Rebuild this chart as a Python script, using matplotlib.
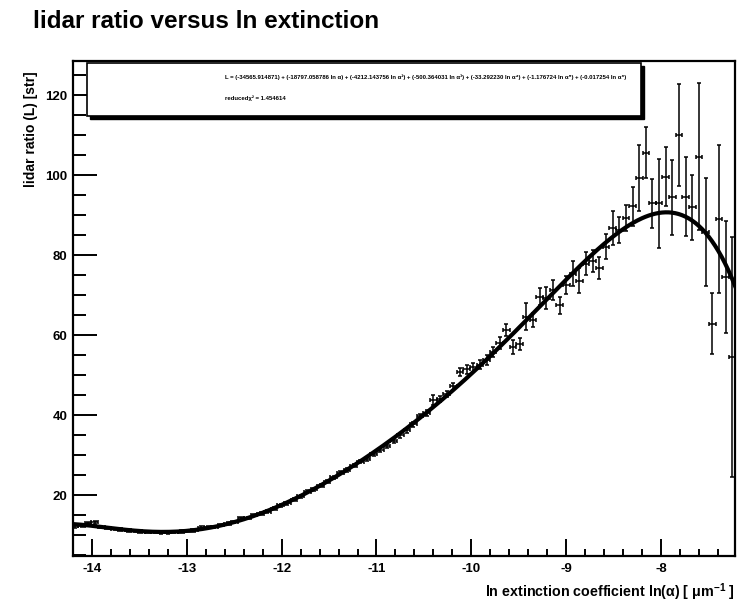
import numpy as np
import matplotlib
matplotlib.use("Agg")
import matplotlib.pyplot as plt
from matplotlib.patches import Rectangle
from matplotlib.ticker import MultipleLocator

plt.rcParams['font.family'] = ['Liberation Sans', 'DejaVu Sans']
plt.rcParams['font.weight'] = 'bold'
plt.rcParams['axes.unicode_minus'] = False
plt.rcParams['mathtext.fontset'] = 'custom'
plt.rcParams['mathtext.rm'] = 'Liberation Sans:bold'
plt.rcParams['mathtext.it'] = 'Liberation Sans:bold'
plt.rcParams['mathtext.bf'] = 'Liberation Sans:bold'

# ---- data ----
ln_ext = [-14.18, -14.11, -14.04, -13.97, -13.90, -13.83, -13.76, -13.69, -13.62, -13.55,
          -13.48, -13.41, -13.34, -13.27, -13.20, -13.13, -13.06, -12.99, -12.92, -12.85,
          -12.78, -12.71, -12.64, -12.57, -12.50, -12.43, -12.36, -12.29, -12.22, -12.15,
          -12.08, -12.01, -11.94, -11.87, -11.80, -11.73, -11.66, -11.59, -11.52, -11.45,
          -11.38, -11.31, -11.24, -11.17, -11.10, -11.03, -10.96, -10.89, -10.82, -10.75,
          -10.68, -10.61, -10.54, -10.47, -10.40, -10.33, -10.26, -10.19, -10.12, -10.05,
          -9.98, -9.91, -9.84, -9.77, -9.70, -9.63, -9.56, -9.49, -9.42, -9.35,
          -9.28, -9.21, -9.14, -9.07, -9.00, -8.93, -8.86, -8.79, -8.72, -8.65,
          -8.58, -8.51, -8.44, -8.37, -8.30, -8.23, -8.16, -8.09, -8.02, -7.95,
          -7.88, -7.81, -7.74, -7.67, -7.60, -7.53, -7.46, -7.39, -7.32, -7.25]

lidar_ratio = [12.2, 12.4, 13.0, 13.2, 12.0, 11.8, 11.6, 11.4, 11.2, 11.0,
               10.9, 10.8, 10.8, 10.7, 10.7, 10.8, 10.9, 11.0, 11.2, 11.9,
               12.0, 12.1, 12.5, 12.9, 13.3, 14.2, 14.3, 15.0, 15.4, 15.9,
               16.6, 17.5, 18.0, 18.9, 19.7, 20.9, 21.5, 22.4, 23.4, 24.5,
               25.6, 26.3, 27.4, 28.4, 29.1, 30.3, 31.4, 32.3, 33.6, 35.0,
               36.2, 37.7, 39.8, 40.5, 43.8, 44.0, 45.3, 47.2, 50.8, 51.5,
               52.0, 52.6, 53.8, 55.8, 58.0, 61.3, 57.1, 57.9, 64.6, 63.8,
               69.6, 69.2, 71.3, 67.5, 72.5, 75.3, 73.6, 77.8, 78.5, 76.7,
               82.1, 86.7, 86.3, 89.2, 92.2, 99.3, 105.6, 92.9, 92.9, 99.6,
               94.4, 110.0, 94.6, 91.9, 104.6, 85.8, 62.9, 88.9, 74.6, 54.5]

lidar_err = [0.3, 0.3, 0.3, 0.3, 0.3, 0.3, 0.3, 0.3, 0.3, 0.3,
             0.3, 0.3, 0.3, 0.3, 0.3, 0.3, 0.3, 0.3, 0.3, 0.3,
             0.3, 0.3, 0.3, 0.3, 0.3, 0.3, 0.3, 0.3, 0.3, 0.3,
             0.4, 0.4, 0.4, 0.4, 0.4, 0.4, 0.4, 0.4, 0.4, 0.4,
             0.4, 0.4, 0.4, 0.4, 0.5, 0.5, 0.5, 0.5, 0.5, 0.6,
             0.6, 0.6, 0.6, 0.7, 1.2, 0.8, 0.8, 0.9, 1.0, 1.1,
             1.1, 1.1, 1.2, 1.2, 1.5, 1.6, 1.7, 1.5, 3.3, 1.7,
             2.1, 2.7, 2.5, 2.1, 2.3, 3.1, 3.1, 2.9, 2.7, 2.7,
             3.1, 4.2, 3.3, 3.3, 4.9, 8.2, 6.4, 6.1, 11.2, 7.4,
             9.4, 12.8, 9.8, 8.1, 18.4, 13.5, 7.5, 18.5, 14.0, 30.0]

bin_half_width = 0.035

title = "lidar ratio versus ln extinction"
xlabel = r"ln extinction coefficient ln($\alpha$) [ $\mu$m$^{-1}$ ]"
ylabel = "lidar ratio (L) [str]"
chi2_text = "reducedχ² = 1.454614"

x = np.array(ln_ext)
y = np.array(lidar_ratio)
e = np.array(lidar_err)

# ---- figure ----
W, H = 738, 606
fig = plt.figure(figsize=(W / 100, H / 100), dpi=100)
ax = fig.add_axes([73 / W, 1 - 556 / H, (735 - 73) / W, (556 - 61) / H])

ax.errorbar(x, y, yerr=e, xerr=bin_half_width, fmt='none', ecolor='black',
            elinewidth=1.1, capsize=1.3, capthick=1.1, zorder=3)

# pol6 fit, effective-variance weighting (y errors plus x errors via slope)
coef = np.polyfit(x, y, 6, w=1.0 / e)
for _ in range(5):
    slope = np.polyval(np.polyder(coef), x)
    s_eff = np.sqrt(e ** 2 + (slope * bin_half_width) ** 2)
    coef = np.polyfit(x, y, 6, w=1.0 / s_eff)
xf = np.linspace(-14.2, -7.22, 400)
ax.plot(xf, np.polyval(coef, xf), color='black', lw=3.0, zorder=4)

ax.set_xlim(-14.2, -7.22)
ax.set_ylim(4.8, 128.5)
ax.xaxis.set_major_locator(MultipleLocator(1))
ax.xaxis.set_minor_locator(MultipleLocator(0.2))
ax.yaxis.set_minor_locator(MultipleLocator(5))
ax.set_yticks([20, 40, 60, 80, 100, 120])
ax.tick_params(axis='both', which='both', direction='in', width=1.4, colors='black',
               labelsize=9.5, top=False, right=False)
ax.tick_params(axis='x', which='major', length=12, pad=5)
ax.tick_params(axis='x', which='minor', length=5)
ax.tick_params(axis='y', which='major', length=17, pad=4)
ax.tick_params(axis='y', which='minor', length=9)
for lab in ax.get_xticklabels() + ax.get_yticklabels():
    lab.set_fontweight('bold')
for sp in ax.spines.values():
    sp.set_linewidth(1.6)

ax.set_xlabel(xlabel, fontsize=10.3, fontweight='bold', ha='right', va='center')
ax.xaxis.set_label_coords(1.0, -36 / 495)
ax.set_ylabel(ylabel, fontsize=10, fontweight='bold', ha='right')
ax.yaxis.set_label_coords(-0.053, 0.98)

fig.text(33 / W, 1 - 22 / H, title, fontsize=17.5, fontweight='bold',
         ha='left', va='center')

# ---- fit-statistics box with shadow ----
bx0, bx1, by0, by1 = 87, 641, 63, 116
sh = 3
fig.patches.append(Rectangle(((bx0 + sh) / W, 1 - (by1 + sh) / H), (bx1 - bx0) / W,
                             (by1 - by0) / H, transform=fig.transFigure,
                             facecolor='black', edgecolor='black', zorder=5))
fig.patches.append(Rectangle((bx0 / W, 1 - by1 / H), (bx1 - bx0) / W, (by1 - by0) / H,
                             transform=fig.transFigure, facecolor='white',
                             edgecolor='black', lw=1.2, zorder=6))
p = coef[::-1]
sup = ['', '', '²', '³', '⁴', '⁵', '⁶']
terms = ["L = (%.6f)" % p[0], "(%.6f ln α)" % p[1]]
for k in range(2, 7):
    terms.append("(%.6f ln α%s)" % (p[k], sup[k]))
fit_text = " + ".join(terms)
fig.text(225 / W, 1 - 77 / H, fit_text, fontsize=4.3, fontweight='bold',
         ha='left', va='center', zorder=7)
fig.text(225 / W, 1 - 98 / H, chi2_text, fontsize=4.3, fontweight='bold',
         ha='left', va='center', zorder=7)

fig.savefig("out.png", dpi=100)
